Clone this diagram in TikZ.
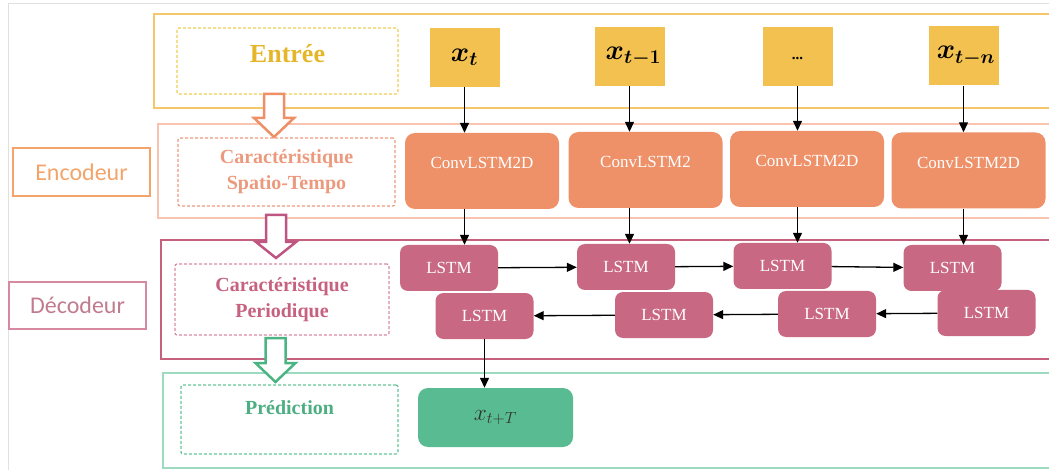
\documentclass[tikz,border=0pt]{standalone}
\usepackage{graphicx}
\usepackage{fontspec}
\setmainfont{Liberation Serif}
\newfontfamily\calibri{Carlito}
\usetikzlibrary{arrows.meta}
\newcommand{\grand}[1]{\scalebox{1.35}{#1}}
\definecolor{jaune}{HTML}{F2C150}
\definecolor{jauneb}{HTML}{F5C66A}
\definecolor{jaunep}{HTML}{F0CC55}
\definecolor{jaunet}{HTML}{E6B62A}
\definecolor{saumonb}{HTML}{F8C4B0}
\definecolor{saumonp}{HTML}{EC9A7E}
\definecolor{orangec}{HTML}{EE9068}
\definecolor{orangel}{HTML}{F3A46A}
\definecolor{orangef}{HTML}{EF8F66}
\definecolor{roseb}{HTML}{C5607D}
\definecolor{rosep}{HTML}{D98AA2}
\definecolor{roset}{HTML}{C6617F}
\definecolor{rosel}{HTML}{D6899F}
\definecolor{rosec}{HTML}{C86883}
\definecolor{rosef}{HTML}{BF5583}
\definecolor{vertb}{HTML}{9CDBC0}
\definecolor{vertp}{HTML}{66C498}
\definecolor{vertt}{HTML}{4DAE82}
\definecolor{vertc}{HTML}{58BB91}
\definecolor{vertf}{HTML}{4AB583}
\begin{document}
\begin{tikzpicture}[x=1pt,y=-1pt,
		fleche/.style={-{Triangle[length=10pt,width=9pt]},line width=1.3pt},
		cadre/.style={line width=2pt},
		pointille/.style={draw,dash pattern=on 3pt off 2pt,line width=1.2pt,rounded corners=2pt,align=center},
		entree/.style={fill=jaune,minimum width=70pt,minimum height=59pt,inner sep=0pt,font=\fontsize{20.74}{20.74}\selectfont\boldmath},
		conv/.style={fill=orangec,rounded corners=10pt,minimum width=154pt,inner xsep=0pt,inner ysep=0pt,text height=36pt,text depth=40pt,text=white,font=\fontsize{17}{17}\selectfont},
		lstm/.style={fill=rosec,rounded corners=8pt,minimum width=98pt,minimum height=46pt,text=white,font=\fontsize{17}{17}\selectfont}]
	\useasboundingbox (0,0) rectangle (1049,470);
	\draw[black!12] (8,470) -- (8,3) -- (1049,3);
	
	% blocs
	\draw[cadre,draw=jauneb] (1049,14) -| (154,108) -- (1049,108);
	\draw[cadre,draw=saumonb] (1049,124) -| (158,218) -- (1049,218);
	\draw[cadre,draw=roseb] (1049,240) -| (161,359) -- (1049,359);
	\draw[cadre,draw=vertb] (1049,373) -| (163,468) -- (1049,468);
	
	\node[draw=orangel,line width=1.5pt,minimum width=137pt,minimum height=48pt,text=orangel,font=\calibri\fontsize{24}{24}\selectfont] (enc) at (81.5,172) {Encodeur};
	\node[draw=rosel,line width=1.5pt,minimum width=137pt,minimum height=47pt,text=rosel!90!black,font=\calibri\fontsize{24}{24}\selectfont] (dec) at (77.5,305.5) {Décodeur};
	
	\node[pointille,draw=jaunep,minimum width=221pt,inner ysep=0pt,text height=35pt,text depth=31pt,text=jaunet,font=\fontsize{26}{26}\selectfont\bfseries] (entree) at (287.5,61) {Entrée};
	\node[pointille,draw=saumonp,minimum width=217pt,minimum height=68pt,text=saumonp,font=\fontsize{20}{26}\selectfont\bfseries] (spatio) at (286.5,172) {Caractéristique\\Spatio-Tempo};
	\node[pointille,draw=rosep,minimum width=214pt,minimum height=71pt,text=roset,font=\fontsize{20}{26}\selectfont\bfseries] (period) at (282,299.5) {Caractéristique\\Periodique};
	\node[pointille,draw=vertp,minimum width=217pt,inner ysep=0pt,text height=29pt,text depth=40pt,text=vertt,font=\fontsize{20}{20}\selectfont\bfseries] (predic) at (289.5,419.5) {Prédiction};
	
	% fleches creuses
	\foreach \c/\xc/\ya/\yb/\yc in {orangef/274/94/118/137, rosef/276/215/242/258, vertf/275.5/338/363/382}
		\draw[line width=2.5pt,draw=\c,fill=white] (\xc-10,\ya) -- (\xc+10,\ya) -- (\xc+10,\yb) -- (\xc+20,\yb) -- (\xc,\yc) -- (\xc-20,\yb) -- (\xc-10,\yb) -- cycle;
	
	% entrees
	\node[entree] (x1) at (464.5,57.5) {\grand{$x_t$}};
	\node[entree] (x2) at (629.5,56.5) {\hspace{8pt}\grand{$x_{t-1}$}};
	\node[entree] (x3) at (797.5,56.5) {\fontsize{15}{15}\selectfont\raisebox{-6pt}{\textbf{...}}};
	\node[entree] (x4) at (963.5,56) {\hspace{5pt}\grand{$x_{t-n}$}};
	
	% encodeur
	\node[conv] (c1) at (482,171) {ConvLSTM2D};
	\node[conv] (c2) at (645.5,170) {ConvLSTM2};
	\node[conv] (c3) at (807,169) {ConvLSTM2D};
	\node[conv] (c4) at (968.5,170.5) {ConvLSTM2D};
	
	% decodeur
	\node[lstm] (l1) at (449,268) {LSTM};
	\node[lstm] (l2) at (626,267) {LSTM};
	\node[lstm] (l3) at (782.5,266) {LSTM};
	\node[lstm] (l4) at (952.5,268) {LSTM};
	\node[lstm] (b1) at (484.5,316) {LSTM};
	\node[lstm] (b2) at (664,315) {LSTM};
	\node[lstm] (b3) at (827,314) {LSTM};
	\node[lstm] (b4) at (986.5,313) {LSTM};
	
	\node[fill=vertc,rounded corners=10pt,minimum width=155pt,minimum height=59pt,text=black!80,font=\fontsize{17.28}{17.28}\selectfont] (pred) at (495.5,417.5) {\grand{$x_{t+T}$}};
	
	\foreach \i in {1,...,4} {
		\draw[fleche] (x\i) -- (x\i |- c\i.north);
		\draw[fleche] (c\i.south -| x\i) -- (x\i |- l\i.north);
	}
	\draw[fleche] (l1) -- (l2);
	\draw[fleche] (l2) -- (l3);
	\draw[fleche] (l3) -- (l4);
	\draw[fleche] (b4) -- (b3);
	\draw[fleche] (b3) -- (b2);
	\draw[fleche] (b2) -- (b1);
	\draw[fleche] (b1) -- (b1 |- pred.north);
\end{tikzpicture}
\end{document}
